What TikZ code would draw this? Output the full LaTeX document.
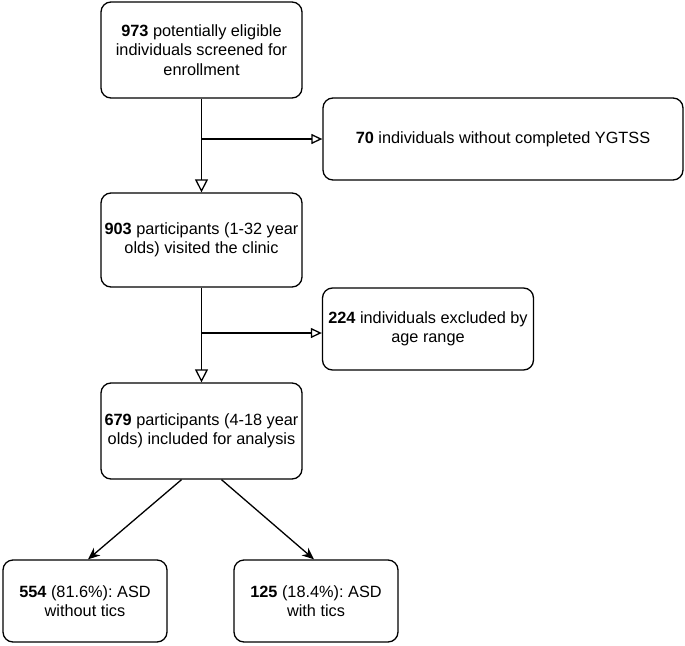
\documentclass[tikz,border=0pt]{standalone}
\usepackage{fontspec}
\setmainfont{Liberation Sans}
\usetikzlibrary{arrows.meta}
\frenchspacing

\tikzset{
  box/.style={draw, line width=1.3pt, rounded corners=10pt, align=center,
    font=\fontsize{16.3}{19.5}\selectfont, inner sep=2pt},
  flow/.style={line width=1.3pt, -{Triangle[open, length=13pt, width=13pt]}},
  side/.style={line width=1.3pt, -{Triangle[open, length=11pt, width=10pt]}},
  split/.style={line width=1.3pt, -{Stealth[length=12pt, width=10pt]}}
}

\begin{document}
\begin{tikzpicture}[x=1pt, y=-1pt]
\useasboundingbox (0,0) rectangle (685,645);
\begin{scope}

\node[box, minimum width=201pt, minimum height=96pt] (screened) at (201.5,50)
  {\textbf{973} potentially eligible\\individuals screened for\\enrollment};
\node[box, minimum width=360pt, minimum height=82pt] (noygtss) at (503,139)
  {\textbf{70} individuals without completed YGTSS};
\node[box, minimum width=201pt, minimum height=94pt] (visited) at (201.5,240)
  {\textbf{903} participants (1-32 year\\olds) visited the clinic};
\node[box, minimum width=211pt, minimum height=82pt] (agerange) at (428,329)
  {\textbf{224} individuals excluded by\\age range};
\node[box, minimum width=201pt, minimum height=96pt] (included) at (201.5,431)
  {\textbf{679} participants (4-18 year\\olds) included for analysis};
\node[box, minimum width=164pt, minimum height=82pt] (notics) at (85,601)
  {\textbf{554} (81.6\%): ASD\\without tics};
\node[box, minimum width=164pt, minimum height=82pt] (tics) at (316,601)
  {\textbf{125} (18.4\%): ASD\\with tics};

\coordinate (cut1) at (201.5,139);
\coordinate (cut2) at (201.5,333);

\draw[flow] (screened) -- (visited);
\draw[side] (cut1) -- (noygtss);
\draw[flow] (visited) -- (included);
\draw[side] (cut2) -- (cut2 -| agerange.west);

\draw[split] ([xshift=-20pt]included.south) -- ([xshift=3pt]notics.north);
\draw[split] ([xshift=20pt]included.south) -- ([xshift=-2pt]tics.north);

\end{scope}
\end{tikzpicture}
\end{document}
